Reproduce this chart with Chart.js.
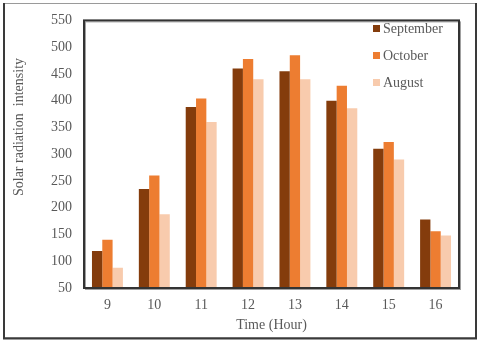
<!DOCTYPE html>
<html>
<head>
<meta charset="utf-8">
<script src="https://cdn.jsdelivr.net/npm/chart.js@4.4.1/dist/chart.umd.min.js"></script>
<style>
html,body{margin:0;padding:0;background:#fff;}
#wrap{width:480px;height:344px;position:relative;}
</style>
</head>
<body>
<div id="wrap"><canvas id="c" width="480" height="344"></canvas></div>
<script>
const hours = ['9','10','11','12','13','14','15','16'];
const september = [119, 235, 388, 460, 455, 400, 310, 178];
const october = [140, 260, 404, 478, 485, 428, 323, 156];
const august = [88, 188, 360, 440, 440, 386, 290, 148];
const seriesNames = ['September', 'October', 'August'];
const seriesColors = ['#843C0C', '#ED7D31', '#F8CBAD'];
const yTitle = 'Solar radiation  intensity';
const xTitle = 'Time (Hour)';

const FONT = "'Liberation Serif', 'Times New Roman', serif";
const TXT = '#595959';

const decor = {
  id: 'decor',
  beforeDraw(chart) {
    const ctx = chart.ctx;
    ctx.save();
    ctx.fillStyle = '#fff';
    ctx.fillRect(0, 0, chart.width, chart.height);
    // outer frame
    ctx.strokeStyle = '#9a9a9a';
    ctx.lineWidth = 1;
    ctx.strokeRect(3.5, 3.5, 472, 334);
    ctx.strokeStyle = '#3a3a3a';
    ctx.lineWidth = 2;
    ctx.beginPath();
    ctx.moveTo(4, 3); ctx.lineTo(4, 338);
    ctx.moveTo(476, 3); ctx.lineTo(476, 339);
    ctx.moveTo(3, 338.5); ctx.lineTo(477, 338.5);
    ctx.stroke();
    ctx.restore();
  },
  afterDatasetsDraw(chart) {
    const ctx = chart.ctx;
    const a = chart.chartArea;
    ctx.save();
    // plot box with shadow
    ctx.strokeStyle = '#a0a0a0';
    ctx.lineWidth = 1;
    ctx.strokeRect(a.left + 1.5, a.top + 1.5, a.right - a.left, a.bottom - a.top);
    ctx.strokeStyle = '#333';
    ctx.lineWidth = 2;
    ctx.strokeRect(a.left, a.top, a.right - a.left, a.bottom - a.top);
    // axis titles
    ctx.fillStyle = TXT;
    ctx.font = '14px ' + FONT;
    ctx.textAlign = 'center';
    ctx.textBaseline = 'middle';
    ctx.fillText(xTitle, (a.left + a.right) / 2, 325);
    ctx.save();
    ctx.translate(19, 127);
    ctx.rotate(-Math.PI / 2);
    ctx.fillText(yTitle, 0, 0);
    ctx.restore();
    // legend
    ctx.font = '14px ' + FONT;
    ctx.textAlign = 'left';
    chart.data.datasets.forEach((ds, i) => {
      const y = 29 + i * 27;
      ctx.fillStyle = ds.backgroundColor;
      ctx.fillRect(373, y - 4, 7, 7);
      ctx.fillStyle = TXT;
      ctx.fillText(ds.label, 383, y);
    });
    ctx.restore();
  }
};

new Chart(document.getElementById('c'), {
  type: 'bar',
  data: {
    labels: hours,
    datasets: [
      { label: seriesNames[0], data: september, backgroundColor: seriesColors[0] },
      { label: seriesNames[1], data: october, backgroundColor: seriesColors[1] },
      { label: seriesNames[2], data: august, backgroundColor: seriesColors[2] }
    ]
  },
  options: {
    responsive: false,
    animation: false,
    devicePixelRatio: 1,
    layout: { padding: { left: 0, top: 14, right: 21, bottom: 0 } },
    datasets: { bar: { categoryPercentage: 0.66, barPercentage: 1.0 } },
    plugins: { legend: { display: false }, tooltip: { enabled: false } },
    scales: {
      x: {
        grid: { display: false, drawTicks: false },
        border: { display: false },
        ticks: { color: TXT, font: { family: FONT, size: 14 }, padding: 9 },
        afterFit(s) { s.height = 56; }
      },
      y: {
        min: 50, max: 550,
        grid: { display: false, drawTicks: false },
        border: { display: false },
        ticks: { stepSize: 50, color: TXT, font: { family: FONT, size: 14 }, padding: 12 },
        afterFit(s) { s.width = 84; }
      }
    }
  },
  plugins: [decor]
});
</script>
</body>
</html>
